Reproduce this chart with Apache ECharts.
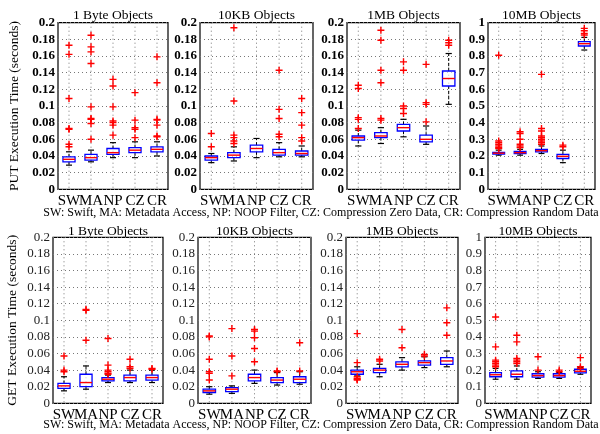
<!DOCTYPE html>
<html>
<head>
<meta charset="utf-8">
<script src="https://cdn.jsdelivr.net/npm/echarts@6/dist/echarts.min.js"></script>
<style>html,body{margin:0;padding:0;background:#fff}#c{width:600px;height:434px}</style>
</head>
<body>
<div id="c"></div>
<script>
const cats = ['SW', 'MA', 'NP', 'CZ', 'CR'];
const titles = ['1 Byte Objects', '10KB Objects', '1MB Objects', '10MB Objects'];
const caption = 'SW: Swift, MA: Metadata Access, NP: NOOP Filter, CZ: Compression Zero Data, CR: Compression Random Data';

// box stats per category: [lower whisker, Q1, median, Q3, upper whisker]
const putByteBox = [[0.029,0.033,0.036,0.039,0.045],[0.033,0.035,0.038,0.042,0.047],[0.038,0.042,0.044,0.049,0.056],[0.038,0.044,0.047,0.050,0.057],[0.040,0.045,0.048,0.051,0.057]];
const putByteOut = [[0.173,0.162,0.109,0.073,0.072,0.054,0.051],[0.185,0.171,0.165,0.151,0.099,0.085,0.084,0.079,0.060],[0.132,0.124,0.099,0.082,0.080,0.077,0.065],[0.116,0.083,0.074,0.072,0.062],[0.159,0.128,0.084,0.083,0.077,0.064,0.063]];
const putKBBox = [[0.032,0.035,0.038,0.040,0.043],[0.034,0.038,0.041,0.044,0.051],[0.038,0.045,0.049,0.053,0.061],[0.039,0.041,0.044,0.048,0.056],[0.039,0.041,0.043,0.046,0.052]];
const putKBOut = [[0.067,0.051],[0.194,0.106,0.065,0.062,0.058,0.055],[],[0.143,0.096,0.085,0.066,0.063],[0.109,0.092,0.077,0.062,0.058]];
const putMBBox = [[0.052,0.059,0.062,0.064,0.071],[0.055,0.062,0.064,0.068,0.074],[0.063,0.070,0.074,0.078,0.084],[0.054,0.057,0.060,0.065,0.076],[0.102,0.124,0.133,0.142,0.163]];
const putMBOut = [[0.125,0.121,0.086,0.084,0.073],[0.191,0.179,0.143,0.128,0.085,0.083],[0.153,0.143,0.100,0.097,0.091],[0.150,0.104,0.102,0.081],[0.179,0.176,0.173]];
const put10MBox = [[0.205,0.212,0.217,0.222,0.235],[0.205,0.215,0.220,0.228,0.240],[0.215,0.225,0.232,0.240,0.260],[0.160,0.185,0.198,0.210,0.235],[0.836,0.860,0.874,0.886,0.912]];
const put10MOut = [[0.805,0.29,0.28,0.27,0.26,0.25,0.245],[0.345,0.335,0.30,0.27,0.26,0.25],[0.69,0.365,0.35,0.32,0.31,0.30,0.29,0.28,0.27],[0.265,0.255],[0.966,0.952,0.936,0.926]];
const getByteBox = [[0.015,0.018,0.021,0.024,0.032],[0.017,0.020,0.025,0.035,0.045],[0.025,0.027,0.029,0.031,0.034],[0.025,0.027,0.031,0.034,0.040],[0.025,0.028,0.031,0.034,0.040]];
const getByteOut = [[0.057,0.040,0.038],[0.113,0.112,0.076],[0.078,0.046,0.040,0.038,0.036,0.035],[0.053,0.044,0.042],[0.042,0.041]];
const getKBBox = [[0.011,0.013,0.015,0.017,0.020],[0.012,0.014,0.017,0.019,0.021],[0.024,0.027,0.031,0.035,0.040],[0.022,0.025,0.028,0.031,0.037],[0.023,0.025,0.029,0.032,0.038]];
const getKBOut = [[0.081,0.080,0.053,0.038,0.036,0.028],[0.090,0.057,0.033],[0.089,0.087,0.079,0.066,0.050],[0.039,0.038],[0.073,0.039]];
const getMBBox = [[0.034,0.035,0.038,0.040,0.044],[0.032,0.037,0.040,0.042,0.047],[0.040,0.044,0.047,0.050,0.055],[0.043,0.046,0.049,0.051,0.056],[0.044,0.047,0.051,0.055,0.063]];
const getMBOut = [[0.084,0.049,0.032,0.030,0.029,0.028],[0.053,0.051],[0.089,0.067],[0.059,0.057],[0.115,0.097,0.082]];
const get10MBox = [[0.145,0.160,0.172,0.185,0.210],[0.145,0.160,0.175,0.195,0.225],[0.150,0.158,0.167,0.178,0.190],[0.150,0.158,0.167,0.178,0.185],[0.175,0.183,0.193,0.205,0.215]];
const get10MOut = [[0.52,0.34,0.26,0.25,0.24,0.23,0.22],[0.41,0.37,0.27,0.26,0.25,0.24],[0.28,0.20],[0.20,0.19],[0.275,0.22,0.21]];

const yMaxs = [0.2, 0.2, 0.2, 1, 0.2, 0.2, 0.2, 1];
const ySteps = [0.02, 0.02, 0.02, 0.1, 0.02, 0.02, 0.02, 0.1];
const yNames = ['PUT Execution Time (seconds)', '', '', '', 'GET Execution Time (seconds)', '', '', ''];

const boxes = [putByteBox, putKBBox, putMBBox, put10MBox, getByteBox, getKBBox, getMBBox, get10MBox];
const outs = [putByteOut, putKBOut, putMBOut, put10MOut, getByteOut, getKBOut, getMBOut, get10MOut];

const FONT = '"Liberation Serif", "Times New Roman", serif';
const gridPos = [
  [58, 22.7, 110, 166.6], [200, 22.7, 113, 166.6], [347, 22.7, 113, 166.6], [488, 22.7, 107, 166.6],
  [53, 237.3, 110, 166], [198, 237.3, 113, 166], [346, 237.3, 112, 166], [485, 237.3, 106, 166]
];

const grid = [], xAxis = [], yAxis = [], series = [], graphic = [];
const PLUS = 'path://M4,0H6V4H10V6H6V10H4V6H0V4H4Z';

gridPos.forEach((g, i) => {
  const top = i < 4;
  grid.push({left: g[0], top: g[1], width: g[2], height: g[3], show: true,
    borderColor: '#000', borderWidth: 1.2, backgroundColor: 'transparent', containLabel: false});
  xAxis.push({type: 'category', gridIndex: i, data: cats,
    axisLine: {show: false}, axisTick: {show: false}, splitLine: {show: false},
    axisLabel: {interval: 0, margin: 4, fontFamily: FONT, fontSize: 15, color: '#000'}});
  yAxis.push({type: 'value', gridIndex: i, min: 0, max: yMaxs[i], interval: ySteps[i],
    name: yNames[i], nameLocation: 'middle', nameGap: top ? 37 : 34,
    nameTextStyle: {fontFamily: FONT, fontSize: 13.5, color: '#000'},
    axisLine: {show: false}, axisTick: {show: false},
    splitLine: {show: true, lineStyle: {type: [1, 3], color: '#777', width: 1}},
    axisLabel: {margin: 3, fontFamily: FONT, fontSize: 13, color: top ? '#000' : '#222',
      fontWeight: top ? 'bold' : 'normal',
      formatter: v => String(+v.toFixed(2))}});
  const ymax = yMaxs[i];
  series.push({
    type: 'custom', xAxisIndex: i, yAxisIndex: i,
    encode: {x: 0, y: [1, 2, 3, 4, 5]},
    data: boxes[i].map((b, k) => [k, ...b]),
    renderItem: (params, api) => {
      const c = api.value(0);
      const pTop = api.coord([c, ymax]);
      const pBot = api.coord([c, 0]);
      const pLo = api.coord([c, api.value(1)]);
      const pQ1 = api.coord([c, api.value(2)]);
      const pMed = api.coord([c, api.value(3)]);
      const pQ3 = api.coord([c, api.value(4)]);
      const pHi = api.coord([c, api.value(5)]);
      const bw = api.size([1, 0])[0] * 0.55;
      const x = pMed[0];
      const cap = bw * 0.5;
      return {type: 'group', children: [
        {type: 'line', shape: {x1: x, y1: pTop[1], x2: x, y2: pBot[1]},
          style: {stroke: '#777', lineWidth: 1, lineDash: [1, 3]}},
        {type: 'line', shape: {x1: x, y1: pQ3[1], x2: x, y2: pHi[1]},
          style: {stroke: '#000', lineWidth: 1, lineDash: [3, 2]}},
        {type: 'line', shape: {x1: x, y1: pQ1[1], x2: x, y2: pLo[1]},
          style: {stroke: '#000', lineWidth: 1, lineDash: [3, 2]}},
        {type: 'line', shape: {x1: x - cap / 2, y1: pHi[1], x2: x + cap / 2, y2: pHi[1]},
          style: {stroke: '#000', lineWidth: 1.2}},
        {type: 'line', shape: {x1: x - cap / 2, y1: pLo[1], x2: x + cap / 2, y2: pLo[1]},
          style: {stroke: '#000', lineWidth: 1.2}},
        {type: 'rect', shape: {x: x - bw / 2, y: pQ3[1], width: bw, height: Math.max(pQ1[1] - pQ3[1], 1)},
          style: {stroke: '#0000ff', lineWidth: 1.3, fill: 'rgba(255,255,255,0.6)'}},
        {type: 'line', shape: {x1: x - bw / 2, y1: pMed[1], x2: x + bw / 2, y2: pMed[1]},
          style: {stroke: '#ff0000', lineWidth: 1.4}}
      ]};
    }
  });
  const pts = [];
  outs[i].forEach((arr, k) => arr.forEach(v => pts.push([k, v])));
  series.push({type: 'scatter', xAxisIndex: i, yAxisIndex: i, data: pts,
    symbol: PLUS, symbolSize: 7, itemStyle: {color: '#ff0000', opacity: 1}, z: 5});
  graphic.push({type: 'text', x: g[0] + g[2] / 2, y: top ? 15 : 231,
    style: {text: titles[i % 4], font: '13.5px ' + FONT, fill: '#000', textAlign: 'center', textVerticalAlign: 'middle'}});
});
graphic.push({type: 'text', x: 321, y: 213,
  style: {text: caption, font: '12px ' + FONT, fill: '#000', textAlign: 'center', textVerticalAlign: 'middle'}});
graphic.push({type: 'text', x: 321, y: 425,
  style: {text: caption, font: '12px ' + FONT, fill: '#000', textAlign: 'center', textVerticalAlign: 'middle'}});

const chart = echarts.init(document.getElementById('c'), null, {renderer: 'canvas'});
chart.setOption({animation: false, backgroundColor: '#fff', grid, xAxis, yAxis, series, graphic});
</script>
</body>
</html>
